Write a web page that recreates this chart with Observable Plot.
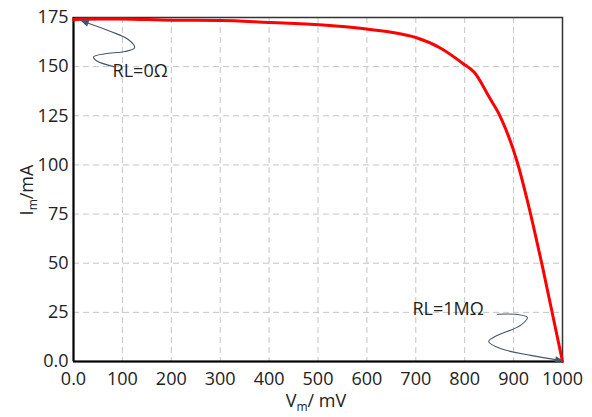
<!DOCTYPE html>
<html>
<head>
<meta charset="utf-8">
<script src="https://cdn.jsdelivr.net/npm/d3@7"></script>
<script src="https://cdn.jsdelivr.net/npm/@observablehq/plot@0.6"></script>
<style>
  html, body { margin: 0; padding: 0; background: #fff; }
  #chart { width: 592px; height: 417px; }
</style>
</head>
<body>
<div id="chart"></div>
<script>
// Curve data (V in mV, I in mA)
const voltage = [0, 50, 100, 200, 300, 400, 464, 530, 591, 650, 700, 750, 797, 820, 850, 873, 908, 928, 961, 1000];
const current = [174, 174.2, 174.3, 173.6, 173.5, 172.5, 171.8, 170.8, 169.4, 167.5, 164.8, 159.5, 151.5, 147, 134.5, 124.5, 101, 82, 46, 0];

// Tick values
const xTicks = [0, 100, 200, 300, 400, 500, 600, 700, 800, 900, 1000];
const yTicks = [0, 25, 50, 75, 100, 125, 150, 175];

// Annotation labels and their arrow paths (data units)
const labels = ["RL=0Ω", "RL=1MΩ"];
const labelV = [80, 693];
const labelI = [147.5, 26.8];
const arrow0V = [82, 47, 41, 65, 106, 125, 112, 76, 20];
const arrow0I = [150, 153, 155, 156.6, 157.7, 159.7, 163.8, 167.9, 173];
const arrow1V = [867, 904, 928, 914, 863, 849, 873, 935, 996];
const arrow1I = [24, 24, 22.4, 18.4, 12.8, 10.2, 6.6, 3.1, 0.5];

const curve = voltage.map((v, i) => ({v, i: current[i]}));
const arr0 = arrow0V.map((v, k) => ({v, i: arrow0I[k]}));
const arr1 = arrow1V.map((v, k) => ({v, i: arrow1I[k]}));
const lab = labels.map((t, k) => ({t, v: labelV[k], i: labelI[k]}));

const font = "'Open Sans', 'Liberation Sans', sans-serif";
const fmt = d => d === 0 ? "0.0" : String(d);
const arrowColor = "#44546a";

const chart = Plot.plot({
  width: 592,
  height: 417,
  marginLeft: 73,
  marginRight: 30,
  marginTop: 17,
  marginBottom: 56,
  style: {fontFamily: font, fontSize: "18px", color: "#222", background: "#fff"},
  x: {domain: [0, 1000], label: null},
  y: {domain: [0, 175], label: null},
  marks: [
    Plot.gridX(xTicks, {stroke: "#c4c4c4", strokeOpacity: 1, strokeDasharray: "6,4", strokeWidth: 1}),
    Plot.gridY(yTicks, {stroke: "#c4c4c4", strokeOpacity: 1, strokeDasharray: "6,4", strokeWidth: 1}),
    Plot.axisX(xTicks, {tickSize: 0, tickPadding: 11, tickFormat: fmt, fontSize: 18, fill: "#222"}),
    Plot.axisY(yTicks, {tickSize: 0, tickPadding: 5, tickFormat: fmt, fontSize: 18, fill: "#222"}),
    Plot.frame({stroke: "#333", strokeWidth: 1.5}),
    Plot.ruleX([0], {stroke: "#000", strokeWidth: 2}),
    Plot.ruleY([0], {stroke: "#000", strokeWidth: 2}),
    Plot.line(curve, {x: "v", y: "i", stroke: "#ff0000", strokeWidth: 3, curve: "monotone-x"}),
    Plot.line(arr0, {x: "v", y: "i", stroke: arrowColor, strokeWidth: 1.1, curve: "catmull-rom", markerEnd: "arrow"}),
    Plot.line(arr1, {x: "v", y: "i", stroke: arrowColor, strokeWidth: 1.1, curve: "catmull-rom", markerEnd: "arrow"}),
    Plot.text(lab, {x: "v", y: "i", text: "t", textAnchor: "start", fontSize: 18, fill: "#222"})
  ]
});

// Make the arrowheads filled triangles
const svg = d3.select(chart);
svg.selectAll("marker").each(function() {
  const m = d3.select(this);
  m.attr("fill", arrowColor).attr("stroke", "none")
   .attr("markerWidth", 12).attr("markerHeight", 12);
  m.selectAll("path").attr("d", "M-4,-2.6L2.5,0L-4,2.6Z").attr("fill", arrowColor).attr("stroke", "none");
});

// Axis titles with subscripts
const xt = svg.append("text")
  .attr("x", 316).attr("y", 407)
  .attr("text-anchor", "middle")
  .attr("font-family", font).attr("font-size", 18).attr("fill", "#222");
xt.append("tspan").text("V");
xt.append("tspan").attr("font-size", 12).attr("dy", 4).text("m");
xt.append("tspan").attr("dy", -4).text("/ mV");

const yt = svg.append("text")
  .attr("transform", "translate(33,190) rotate(-90)")
  .attr("text-anchor", "middle")
  .attr("font-family", font).attr("font-size", 18).attr("fill", "#222");
yt.append("tspan").text("I");
yt.append("tspan").attr("font-size", 12).attr("dy", 4).text("m");
yt.append("tspan").attr("dy", -4).text("/mA");

document.getElementById("chart").appendChild(chart);
</script>
</body>
</html>
